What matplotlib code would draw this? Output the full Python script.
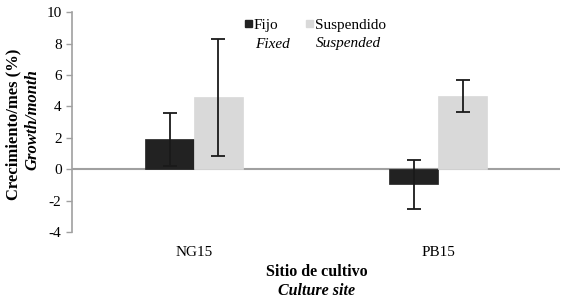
import numpy as np
import matplotlib.pyplot as plt
from matplotlib.patches import Rectangle

plt.rcParams['font.family'] = ['Liberation Serif', 'DejaVu Serif']

# data
sites = ["NG15", "PB15"]
fixed = [1.9, -0.95]
fixed_err = [1.7, 1.55]
suspended = [4.57, 4.68]
suspended_err = [3.7, 1.03]
yticks = [-4, -2, 0, 2, 4, 6, 8, 10]

fig = plt.figure(figsize=(5.67, 3.03), dpi=100)
ax = fig.add_axes([0.127, 0.234, 0.861, 0.726])

x = np.arange(len(sites))
w = 0.2
ax.bar(x - w / 2, fixed, w, color="#222222", edgecolor="#222222", linewidth=0.5, zorder=2)
ax.bar(x + w / 2, suspended, w, color="#d9d9d9", edgecolor="#d9d9d9", linewidth=0.5, zorder=2)
ax.errorbar(x - w / 2, fixed, yerr=fixed_err, fmt="none", ecolor="#1a1a1a",
            elinewidth=1.3, capsize=5, capthick=1.3, zorder=3)
ax.errorbar(x + w / 2, suspended, yerr=suspended_err, fmt="none", ecolor="#1a1a1a",
            elinewidth=1.3, capsize=5, capthick=1.3, zorder=3)

ax.axhline(0, color="#a0a0a0", linewidth=1.5, zorder=1)
ax.set_xlim(-0.5, 1.5)
ax.set_ylim(-4, 10)
ax.set_yticks(yticks)
ax.set_yticklabels([str(t) for t in yticks], fontsize=11)
ax.set_xticks(x)
ax.set_xticklabels(sites, fontsize=11)
ax.tick_params(axis="x", length=0, pad=10)
ax.tick_params(axis="y", length=4, color="#a0a0a0", width=1)
for s in ["top", "right", "bottom"]:
    ax.spines[s].set_visible(False)
ax.spines["left"].set_color("#a0a0a0")
ax.spines["left"].set_linewidth(1.2)

# axis labels (two lines, second in italics)
fig.text(13 / 567, 1 - 124 / 303, "Crecimiento/mes (%)", rotation=90, ha="center",
         va="center", fontsize=12, fontweight="bold")
fig.text(32 / 567, 1 - 120 / 303, "Growth/month", rotation=90, ha="center",
         va="center", fontsize=12, fontweight="bold", style="italic")
fig.text(317 / 567, 1 - 272 / 303, "Sitio de cultivo", ha="center", va="center",
         fontsize=11.5, fontweight="bold")
fig.text(317 / 567, 1 - 291 / 303, "Culture site", ha="center", va="center",
         fontsize=11.5, fontweight="bold", style="italic")

# legend
for px, col, lab, lab2 in [(245, "#222222", "Fijo", "Fixed"),
                           (306, "#d9d9d9", "Suspendido", "Suspended")]:
    fig.patches.append(Rectangle((px / 567, 1 - 27 / 303), 7 / 567, 7 / 303,
                                 transform=fig.transFigure, color=col))
    fig.text((px + 9) / 567, 1 - 26 / 303, lab, ha="left", va="center", fontsize=11)
    fig.text((px + 10) / 567, 1 - 44 / 303, lab2, ha="left", va="center", fontsize=11,
             style="italic")

plt.savefig("out.png", dpi=100)
